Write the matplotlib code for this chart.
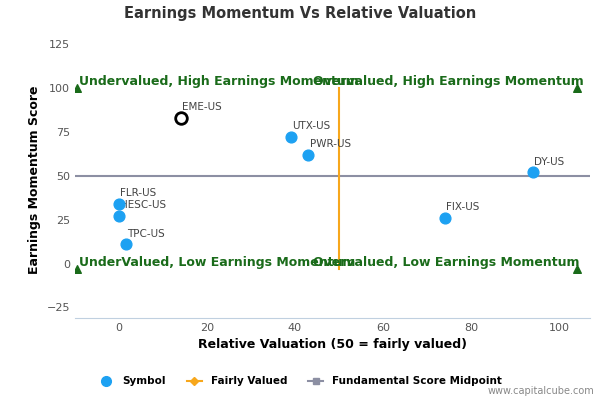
import matplotlib
matplotlib.use("Agg")
import matplotlib.pyplot as plt
from matplotlib.lines import Line2D

symbols = ['EME-US', 'UTX-US', 'PWR-US', 'DY-US', 'FIX-US', 'FLR-US', 'HESC-US', 'TPC-US']
rel_val = [14, 39, 43, 94, 74, 0, 0, 1.5]
momentum = [83, 72, 62, 52, 26, 34, 27, 11]
highlight = 'EME-US'

corner_x = [-9.5, 104, -9.5, 104]
corner_y = [100, 100, -3, -3]
quad_labels = ['Undervalued, High Earnings Momentum', 'Overvalued, High Earnings Momentum',
               'UnderValued, Low Earnings Momentum', 'Overvalued, Low Earnings Momentum']
quad_x = [-9, 44, -9, 44]
quad_y = [100, 100, -3, -3]

fair_x = [50, 50]
fair_y = [-3, 100]
mid_x = [-10, 107]
mid_y = [50, 50]

fig = plt.figure(figsize=(6, 4), dpi=100)
ax = fig.add_axes([0.125, 0.205, 0.858, 0.69])

ax.plot(mid_x, mid_y, color='#8c8fa3', lw=1.5, zorder=1)
ax.plot(fair_x, fair_y, color='#f7a71c', lw=1.5, zorder=2)
ax.scatter(corner_x, corner_y, marker='^', color='#1a6b1a', s=30, zorder=3)

for s, x, y in zip(symbols, rel_val, momentum):
    if s == highlight:
        ax.scatter(x, y, s=70, facecolor='white', edgecolor='black', lw=2, zorder=4)
    else:
        ax.scatter(x, y, s=60, color='#1da1f2', zorder=4)
    ax.annotate(s, (x, y), xytext=(1, 4), textcoords='offset points',
                fontsize=7.5, color='#444444', ha='left', va='bottom')

for t, x, y in zip(quad_labels, quad_x, quad_y):
    ax.text(x, y, t, color='#1a6b1a', fontsize=9, fontweight='bold', va='bottom', zorder=5)

ax.set_xlim(-10, 107)
ax.set_ylim(-31, 126)
ax.set_xticks([0, 20, 40, 60, 80, 100])
ax.set_yticks([-25, 0, 25, 50, 75, 100, 125])
ax.tick_params(labelsize=8, colors='#555555', length=0)
for sp in ['top', 'right', 'left']:
    ax.spines[sp].set_visible(False)
ax.spines['bottom'].set_color('#c0d0e0')
ax.set_xlabel('Relative Valuation (50 = fairly valued)', fontsize=9, fontweight='bold')
ax.set_ylabel('Earnings Momentum Score', fontsize=9, fontweight='bold')
fig.text(0.5, 0.955, 'Earnings Momentum Vs Relative Valuation', ha='center',
         fontsize=10.5, fontweight='bold', color='#333333')

handles = [
    Line2D([], [], marker='o', ls='', color='#1da1f2', markersize=7),
    Line2D([], [], marker='D', color='#f7a71c', markersize=4, lw=1.5),
    Line2D([], [], marker='s', color='#8c8fa3', markersize=5, lw=1.5),
]
fig.legend(handles, ['Symbol', 'Fairly Valued', 'Fundamental Score Midpoint'],
           loc='center', bbox_to_anchor=(0.5, 0.047), ncol=3, frameon=False,
           prop={'size': 7.5, 'weight': 'bold'}, handlelength=1.5)
fig.text(0.99, 0.01, 'www.capitalcube.com', ha='right', va='bottom', fontsize=7, color='#888888')

fig.savefig('out.png', dpi=100)
